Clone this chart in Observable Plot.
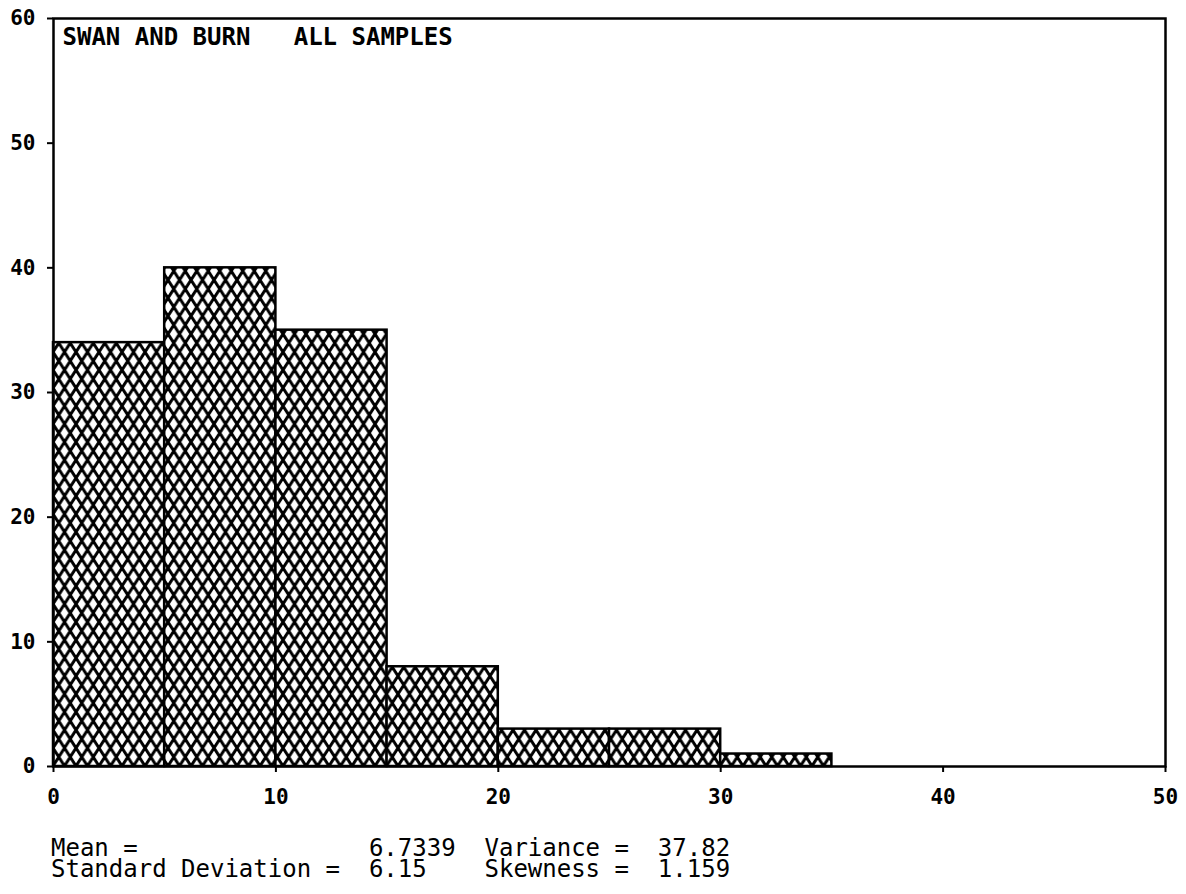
<!DOCTYPE html>
<html>
<head>
<meta charset="utf-8">
<script src="https://cdn.jsdelivr.net/npm/d3@7"></script>
<script src="https://cdn.jsdelivr.net/npm/@observablehq/plot@0.6"></script>
<style>
  html, body { margin: 0; padding: 0; background: #fff; }
  #wrap { position: relative; width: 1186px; height: 894px; overflow: hidden; }
  #stats {
    position: absolute; left: 51px; top: 838px; margin: 0;
    font-family: "DejaVu Sans Mono", monospace; font-size: 24px; line-height: 21px;
    color: #000; white-space: pre;
  }
  svg text { white-space: pre; }
</style>
</head>
<body>
<div id="wrap">
  <div id="chart"></div>
  <pre id="stats"></pre>
</div>
<script>
const binStart = [0, 5, 10, 15, 20, 25, 30];
const binEnd   = [5, 10, 15, 20, 25, 30, 35];
const counts   = [34, 40, 35, 8, 3, 3, 1];
const xTicks = [0, 10, 20, 30, 40, 50];
const yTicks = [0, 10, 20, 30, 40, 50, 60];
const panelTitle = "SWAN AND BURN   ALL SAMPLES";
const statLines = [
  "Mean =                6.7339  Variance =  37.82",
  "Standard Deviation =  6.15    Skewness =  1.159"
];

const bins = binStart.map((s, i) => ({x1: s, x2: binEnd[i], count: counts[i]}));

const chart = Plot.plot({
  width: 1186,
  height: 820,
  marginLeft: 53,
  marginRight: 21,
  marginTop: 18,
  marginBottom: 54,
  style: {fontFamily: "'DejaVu Sans Mono', monospace", fontSize: "21px", fontWeight: "bold", color: "#000", background: "#fff"},
  x: {domain: [0, 50], label: null},
  y: {domain: [0, 60], label: null},
  marks: [
    Plot.rectY(bins, {x1: "x1", x2: "x2", y: "count", fill: "url(#xhatch)", stroke: "#000", strokeWidth: 2.5}),
    Plot.frame({stroke: "#000", strokeWidth: 2.5}),
    Plot.axisX({ticks: xTicks, tickSize: 6, tickPadding: 17, strokeWidth: 2, tickFormat: d => String(d)}),
    Plot.axisY({ticks: yTicks, tickSize: 6, tickPadding: 12, strokeWidth: 2, tickFormat: d => String(d)}),
    Plot.text([panelTitle], {frameAnchor: "top-left", dx: 9, dy: 9, text: d => d, textAnchor: "start", lineAnchor: "top", fontSize: 24, fontWeight: "bold", fill: "#000"})
  ]
});

// crosshatch pattern
const w = 11.5, h = 18;
let path = "";
for (const k of [-1, 0, 1]) {
  path += `M${k*w - w},${-h} L${k*w + 2*w},${2*h} `;
  path += `M${k*w + 2*w},${-h} L${k*w - w},${2*h} `;
}
const defs = d3.select(chart).insert("defs", ":first-child");
const pat = defs.append("pattern")
  .attr("id", "xhatch")
  .attr("patternUnits", "userSpaceOnUse")
  .attr("x", 53).attr("y", 766 - 18*40)
  .attr("width", w).attr("height", h);
pat.append("rect").attr("width", w).attr("height", h).attr("fill", "#fff");
pat.append("path").attr("d", path).attr("stroke", "#000").attr("stroke-width", 3).attr("fill", "none");

document.getElementById("chart").appendChild(chart);
document.getElementById("stats").textContent = statLines.join("\n");
</script>
</body>
</html>
